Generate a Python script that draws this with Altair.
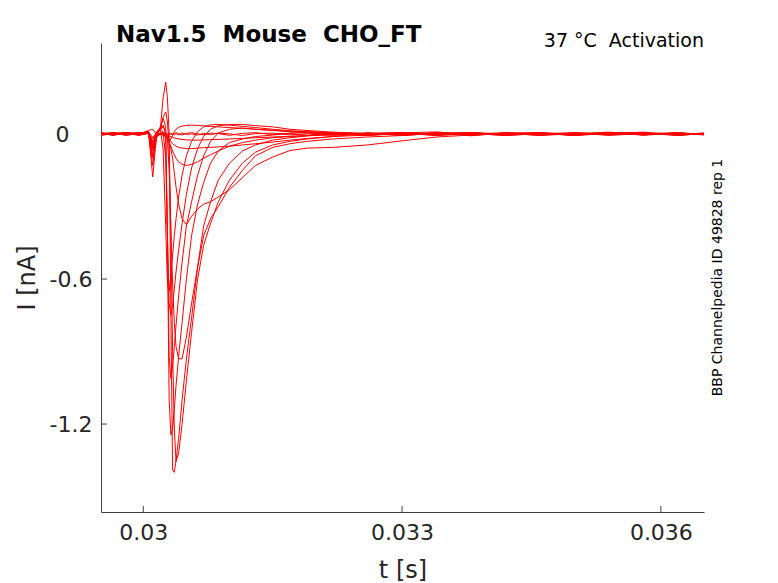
import altair as alt
import pandas as pd

# time grid (s)
time_s = [0.02951, 0.02965, 0.0298, 0.02995, 0.03006, 0.03011, 0.03014, 0.03016,
          0.0302, 0.03023, 0.03026, 0.03028, 0.0303, 0.03032, 0.03034, 0.03036,
          0.03038, 0.03041, 0.03045, 0.0305, 0.03056, 0.03063, 0.0307, 0.03078,
          0.03087, 0.031, 0.03115, 0.0313, 0.0315, 0.0317, 0.0319, 0.0322,
          0.0326, 0.033, 0.0334, 0.0338, 0.0342, 0.0346, 0.035, 0.0354,
          0.0358, 0.0362, 0.0365]

# current sweeps (nA)
sweep_01 = [0.004, -0.005, 0.006, -0.002, 0.012, -0.06, -0.03, 0.00, 0.03, 0.15, 0.215, 0.15, 0.00, -0.75, -1.39, -1.40, -1.35, -1.26, -1.10, -0.93, -0.76, -0.55, -0.38, -0.28, -0.19, -0.12, -0.07, -0.045, -0.025, -0.015, -0.008, 0.004, -0.006, 0.003, -0.004, 0.007, -0.002, 0.005, -0.006, 0.003, 0.008, -0.004, 0.002]
sweep_02 = [-0.003, 0.005, -0.002, 0.004, 0.01, -0.177, -0.06, 0.0, 0.02, 0.07, 0.092, 0.05, -0.05, -0.40, -0.90, -1.22, -1.355, -1.32, -1.20, -1.02, -0.82, -0.60, -0.46, -0.37, -0.28, -0.19, -0.12, -0.075, -0.045, -0.03, -0.02, -0.01, 0.004, -0.005, 0.003, -0.007, 0.005, 0.002, -0.004, 0.006, -0.003, 0.004, -0.002]
sweep_03 = [0.002, -0.004, 0.003, 0.006, 0.008, -0.13, -0.04, 0.01, 0.03, 0.066, 0.03, -0.45, -1.10, -1.245, -1.22, -1.14, -1.04, -0.92, -0.78, -0.60, -0.42, -0.29, -0.20, -0.12, -0.07, -0.035, -0.02, -0.01, -0.004, 0.003, -0.005, 0.006, -0.002, 0.004, -0.006, 0.002, 0.005, -0.003, 0.004, -0.002, 0.006, -0.004, 0.001]
sweep_04 = [-0.004, 0.003, 0.005, -0.003, 0.006, -0.10, -0.03, 0.01, 0.02, 0.037, 0.0, -0.40, -0.92, -1.01, -0.96, -0.88, -0.79, -0.67, -0.53, -0.38, -0.28, -0.17, -0.09, -0.03, 0.005, 0.02, 0.025, 0.02, 0.015, 0.01, 0.005, -0.002, 0.004, -0.005, 0.003, 0.006, -0.003, 0.002, -0.004, 0.005, 0.001, -0.003, 0.002]
sweep_05 = [0.003, 0.006, -0.004, 0.002, 0.005, -0.09, -0.03, -0.01, 0.0, 0.01, -0.005, -0.02, -0.15, -0.40, -0.62, -0.78, -0.88, -0.93, -0.93, -0.84, -0.70, -0.55, -0.42, -0.35, -0.30, -0.22, -0.15, -0.09, -0.055, -0.04, -0.03, -0.02, -0.012, -0.006, 0.003, -0.004, 0.005, -0.002, 0.004, -0.005, 0.002, 0.006, -0.003]
sweep_06 = [-0.002, 0.004, 0.003, -0.005, 0.004, -0.07, -0.02, 0.0, 0.005, -0.003, -0.005, -0.01, -0.03, -0.06, -0.10, -0.16, -0.22, -0.29, -0.35, -0.375, -0.34, -0.31, -0.29, -0.28, -0.26, -0.23, -0.18, -0.13, -0.095, -0.068, -0.058, -0.055, -0.045, -0.028, -0.012, -0.004, 0.003, -0.005, 0.004, 0.002, -0.003, 0.005, -0.002]
sweep_07 = [0.005, -0.002, 0.004, 0.003, 0.008, -0.05, -0.02, 0.01, 0.02, 0.01, -0.10, -0.42, -0.70, -0.75, -0.71, -0.64, -0.57, -0.48, -0.37, -0.25, -0.14, -0.06, -0.01, 0.02, 0.035, 0.04, 0.04, 0.035, 0.03, 0.02, 0.015, 0.008, 0.003, -0.004, 0.005, -0.002, 0.003, 0.006, -0.004, 0.002, -0.003, 0.004, 0.001]
sweep_08 = [-0.003, 0.004, -0.005, 0.002, 0.006, -0.04, -0.01, 0.01, 0.015, -0.06, -0.38, -0.62, -0.65, -0.58, -0.50, -0.42, -0.35, -0.26, -0.17, -0.09, -0.03, 0.01, 0.03, 0.038, 0.04, 0.037, 0.032, 0.027, 0.02, 0.014, 0.01, 0.005, -0.002, 0.004, -0.005, 0.003, 0.001, -0.004, 0.006, -0.002, 0.003, -0.005, 0.002]
sweep_09 = [0.004, -0.003, 0.002, 0.005, 0.003, -0.03, -0.01, 0.005, 0.0, -0.005, -0.01, -0.015, -0.02, -0.03, -0.04, -0.045, -0.05, -0.055, -0.058, -0.06, -0.06, -0.058, -0.056, -0.055, -0.053, -0.05, -0.045, -0.04, -0.033, -0.025, -0.018, -0.01, -0.004, 0.005, -0.003, 0.004, -0.006, 0.002, 0.005, -0.004, 0.003, -0.002, 0.004]
sweep_10 = [-0.002, 0.003, 0.006, -0.004, 0.002, -0.02, -0.005, 0.004, 0.002, -0.002, -0.004, -0.006, -0.008, -0.01, -0.013, -0.016, -0.018, -0.02, -0.022, -0.024, -0.025, -0.025, -0.024, -0.023, -0.022, -0.02, -0.018, -0.015, -0.012, -0.009, -0.006, -0.003, 0.003, -0.004, 0.005, -0.002, 0.004, -0.005, 0.001, 0.004, -0.003, 0.005, -0.001]
sweep_11 = [0.006, -0.003, 0.004, -0.002, 0.015, 0.02, 0.005, -0.004, 0.003, 0.006, 0.002, -0.003, 0.004, 0.001, -0.002, 0.003, 0.005, 0.002, -0.004, 0.003, 0.006, 0.001, -0.003, 0.004, 0.002, -0.005, 0.003, 0.006, -0.002, 0.004, 0.008, 0.002, -0.006, 0.005, 0.009, -0.003, 0.004, 0.002, -0.005, 0.006, 0.003, -0.002, 0.004]
sweep_12 = [-0.005, 0.002, -0.003, 0.005, 0.004, -0.035, -0.012, 0.003, -0.002, 0.004, -0.003, 0.002, -0.005, 0.003, 0.001, -0.004, 0.002, -0.003, 0.005, -0.002, 0.001, -0.004, 0.003, -0.002, 0.004, 0.001, -0.006, 0.002, 0.004, -0.003, 0.002, -0.005, 0.004, 0.007, -0.002, 0.003, -0.006, 0.004, 0.002, 0.008, -0.004, 0.002, -0.003]
sweep_13 = [0.003, -0.004, 0.005, 0.002, 0.01, -0.015, 0.0, 0.01, 0.02, 0.03, 0.01, -0.02, -0.03, -0.02, -0.005, 0.01, 0.02, 0.028, 0.033, 0.036, 0.037, 0.036, 0.034, 0.032, 0.03, 0.027, 0.024, 0.02, 0.016, 0.012, 0.009, 0.005, 0.002, -0.003, 0.004, 0.006, -0.002, 0.003, -0.004, 0.005, 0.002, -0.003, 0.003]
sweep_14 = [-0.002, 0.005, 0.001, -0.003, 0.006, -0.05, -0.015, 0.004, 0.002, -0.004, -0.01, -0.02, -0.035, -0.05, -0.07, -0.085, -0.10, -0.115, -0.125, -0.13, -0.125, -0.115, -0.10, -0.085, -0.07, -0.05, -0.035, -0.025, -0.015, -0.01, -0.006, -0.003, 0.004, -0.002, 0.005, -0.004, 0.002, 0.006, -0.003, 0.001, 0.004, -0.005, 0.002]

sweeps = [sweep_01, sweep_02, sweep_03, sweep_04, sweep_05, sweep_06, sweep_07,
          sweep_08, sweep_09, sweep_10, sweep_11, sweep_12, sweep_13, sweep_14]

x_ticks = [0.03, 0.033, 0.036]
y_ticks = [-1.2, -0.6, 0.0]
x_domain = [0.02951, 0.0365]
y_domain = [-1.564, 0.377]

title_text = "Nav1.5\u00a0\u00a0Mouse\u00a0\u00a0CHO_FT"
cond_text = "37 \u00b0C\u00a0\u00a0Activation"
id_text = "BBP Channelpedia ID 49828 rep 1"

rows = []
for k, s in enumerate(sweeps):
    for i, (t, v) in enumerate(zip(time_s, s)):
        rows.append({"t": t, "I": v, "sweep": k, "i": i})
df = pd.DataFrame(rows)

W, H = 603, 469
FONT = "DejaVu Sans"
AX = "#404040"
TXT = "#262626"

xs = alt.Scale(domain=x_domain, nice=False, zero=False)
ys = alt.Scale(domain=y_domain, nice=False, zero=False)

ax_x = alt.Axis(values=x_ticks, format="~g", title="t [s]", ticks=False,
                labelPadding=10, labelFontSize=22, labelColor=TXT, labelFont=FONT,
                titleFontSize=24, titleColor=TXT, titleFont=FONT, titleFontWeight="normal",
                titleX=W / 2, titleY=65, titleBaseline="alphabetic", titleAlign="center",
                domainColor=AX, domainWidth=1, grid=False)
ax_y = alt.Axis(values=y_ticks, format="~g", title="I [nA]", ticks=False,
                labelExpr="replace(datum.label, '\u2212', '-')",
                labelPadding={"condition": {"test": "datum.value == 0", "value": 32}, "value": 9},
                labelFontSize=22, labelColor=TXT, labelFont=FONT,
                titleFontSize=24, titleColor=TXT, titleFont=FONT, titleFontWeight="normal",
                titleAngle=270, titleX=-67, titleY=H / 2, titleBaseline="alphabetic",
                titleAlign="center", domainColor=AX, domainWidth=1, grid=False)

lines = alt.Chart(df).mark_line(color="#ff0000", strokeWidth=1, clip=True).encode(
    x=alt.X("t:Q", scale=xs, axis=ax_x),
    y=alt.Y("I:Q", scale=ys, axis=ax_y),
    detail="sweep:N",
    order="i:Q",
)

xt = alt.Chart(pd.DataFrame({"t": x_ticks})).mark_rule(color=AX, strokeWidth=1).encode(
    x=alt.X("t:Q", scale=xs, axis=ax_x), y=alt.value(H), y2=alt.value(H - 6))
yt = alt.Chart(pd.DataFrame({"I": y_ticks})).mark_rule(color=AX, strokeWidth=1).encode(
    y=alt.Y("I:Q", scale=ys, axis=ax_y), x=alt.value(0), x2=alt.value(6))

ttl = alt.Chart(pd.DataFrame({"s": [title_text]})).mark_text(
    align="left", baseline="alphabetic", fontSize=23, fontWeight="bold", font=FONT, color="black"
).encode(text="s:N", x=alt.value(15), y=alt.value(-1))

cond = alt.Chart(pd.DataFrame({"s": [cond_text]})).mark_text(
    align="right", baseline="alphabetic", fontSize=19, font=FONT, color="black"
).encode(text="s:N", x=alt.value(W), y=alt.value(4))

idlab = alt.Chart(pd.DataFrame({"s": [id_text]})).mark_text(
    angle=270, align="center", baseline="alphabetic", fontSize=14, font=FONT, color="black"
).encode(text="s:N", x=alt.value(620.5), y=alt.value(H / 2))

chart = alt.layer(xt, yt, lines, ttl, cond, idlab).properties(
    width=W, height=H,
    background="white",
    autosize=alt.AutoSizeParams(type="none"),
    padding={"left": 93, "top": 35, "right": 60, "bottom": 70},
).configure_view(stroke=None, strokeWidth=0)

chart.save("out.html", embed_options={"renderer": "svg", "actions": False})
